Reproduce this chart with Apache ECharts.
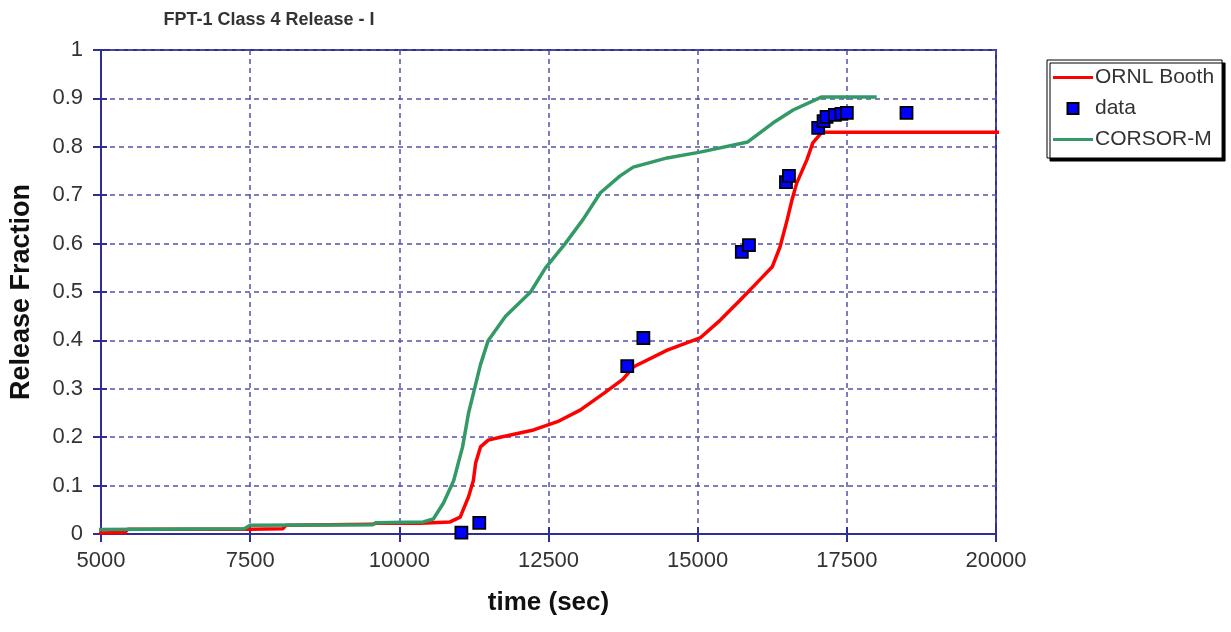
<!DOCTYPE html>
<html>
<head>
<meta charset="utf-8">
<script src="https://cdn.jsdelivr.net/npm/echarts@6/dist/echarts.min.js"></script>
<style>
  html, body { margin: 0; padding: 0; background: #fff; }
  #chart { width: 1231px; height: 632px; }
</style>
</head>
<body>
<div id="chart"></div>
<script>
// Release fraction vs. time for FPT-1, class 4 (iodine)
const xTicks = [5000, 7500, 10000, 12500, 15000, 17500, 20000];
const yTicks = [0, 0.1, 0.2, 0.3, 0.4, 0.5, 0.6, 0.7, 0.8, 0.9, 1];

// ORNL Booth model: [time (s), release fraction]
const ornlBooth = [
  [4870, 0.002], [5400, 0.003], [5450, 0.01], [7450, 0.01], [7500, 0.01],
  [8050, 0.011], [8100, 0.018], [9550, 0.02], [9600, 0.022], [10350, 0.022],
  [10850, 0.025], [11020, 0.035], [11160, 0.077], [11240, 0.11], [11280, 0.147],
  [11360, 0.18], [11490, 0.194], [11690, 0.2], [12250, 0.215], [12650, 0.232],
  [13030, 0.256], [13420, 0.29], [13750, 0.32], [13920, 0.345], [14490, 0.38],
  [15040, 0.405], [15380, 0.442], [15710, 0.483], [16040, 0.525], [16250, 0.552],
  [16380, 0.593], [16500, 0.649], [16580, 0.69], [16660, 0.725], [16830, 0.773],
  [16930, 0.808], [17080, 0.83], [20110, 0.83]
];

// Measured data points
const measured = [
  [11040, 0.003], [11340, 0.023], [13820, 0.347], [14090, 0.405],
  [15740, 0.583], [15860, 0.597], [16480, 0.727], [16530, 0.74],
  [17020, 0.839], [17110, 0.853], [17160, 0.862], [17300, 0.866],
  [17410, 0.868], [17500, 0.87], [18500, 0.87]
];

// CORSOR-M model
const corsorM = [
  [4870, 0.009], [7400, 0.011], [7500, 0.018], [9550, 0.019], [9600, 0.023],
  [10400, 0.025], [10570, 0.031], [10740, 0.064], [10910, 0.11], [11060, 0.18],
  [11160, 0.25], [11260, 0.3], [11360, 0.35], [11490, 0.4], [11780, 0.45],
  [12200, 0.5], [12450, 0.55], [12780, 0.6], [13080, 0.65], [13370, 0.705],
  [13700, 0.74], [13920, 0.758], [14490, 0.777], [15040, 0.789], [15840, 0.81],
  [16260, 0.849], [16600, 0.876], [17080, 0.903], [18000, 0.903]
];

const navy = '#2e2e96';
const gridDash = '#5252aa';
const fontFam = '"Liberation Sans", Arial, sans-serif';
const lineIcon = 'path://M0,0L40,0L40,3L0,3Z';

const chart = echarts.init(document.getElementById('chart'), null, { renderer: 'canvas' });

chart.setOption({
  animation: false,
  backgroundColor: '#ffffff',
  title: {
    text: 'FPT-1 Class 4 Release - I',
    left: 264,
    textAlign: 'center',
    top: 6,
    textStyle: { fontFamily: fontFam, fontSize: 18, fontWeight: 'bold', color: '#333333' }
  },
  legend: {
    orient: 'vertical',
    left: 1047,
    top: 60,
    padding: [7, 8, 8, 6],
    itemGap: 10,
    itemWidth: 40,
    itemHeight: 11,
    symbolKeepAspect: true,
    borderColor: '#000000',
    borderWidth: 1,
    backgroundColor: '#ffffff',
    shadowColor: '#000000',
    shadowBlur: 0,
    shadowOffsetX: 3,
    shadowOffsetY: 3,
    textStyle: { fontFamily: fontFam, fontSize: 21, color: '#333333', padding: [0, 0, 0, -3] },
    data: [
      { name: 'ORNL Booth', icon: lineIcon },
      { name: 'data', icon: 'path://M0,0L1,0L1,1L0,1Z' },
      { name: 'CORSOR-M', icon: lineIcon }
    ]
  },
  grid: {
    left: 100, right: 235, top: 50, bottom: 98,
    show: true, borderColor: navy, borderWidth: 2, backgroundColor: 'transparent'
  },
  xAxis: [
    {
      type: 'value', min: 5000, max: 20000, interval: 2500,
      name: 'time (sec)', nameLocation: 'middle', nameGap: 56,
      nameTextStyle: { fontFamily: fontFam, fontSize: 26, fontWeight: 'bold', color: '#111111' },
      axisLine: { show: true, lineStyle: { color: navy, width: 2 } },
      axisTick: { show: true, inside: false, length: 8, lineStyle: { color: navy, width: 2 } },
      axisLabel: { fontFamily: fontFam, fontSize: 22, color: '#333333', margin: 16,
        customValues: xTicks, formatter: v => String(v) },
      splitLine: { show: true, lineStyle: { color: gridDash, width: 1.5, type: [5, 4] } }
    },
    {
      type: 'value', min: 5000, max: 20000, interval: 2500, position: 'bottom',
      axisLine: { show: false },
      axisTick: { show: true, inside: true, length: 7, lineStyle: { color: navy, width: 2 } },
      axisLabel: { show: false },
      splitLine: { show: false }
    }
  ],
  yAxis: [
    {
      type: 'value', min: 0, max: 1, interval: 0.1,
      name: 'Release Fraction', nameLocation: 'middle', nameGap: 66, nameRotate: 90,
      nameTextStyle: { fontFamily: fontFam, fontSize: 27, fontWeight: 'bold', color: '#111111' },
      axisLine: { show: true, lineStyle: { color: navy, width: 2 } },
      axisTick: { show: true, inside: false, length: 8, lineStyle: { color: navy, width: 2 } },
      axisLabel: { fontFamily: fontFam, fontSize: 22, color: '#333333', margin: 18,
        customValues: yTicks,
        formatter: v => String(Math.round(v * 10) / 10) },
      splitLine: { show: true, lineStyle: { color: gridDash, width: 1.5, type: [5, 4] } }
    },
    {
      type: 'value', min: 0, max: 1, interval: 0.1, position: 'left',
      axisLine: { show: false },
      axisTick: { show: true, inside: true, length: 6, lineStyle: { color: navy, width: 2 } },
      axisLabel: { show: false },
      splitLine: { show: false }
    }
  ],
  series: [
    {
      name: 'ORNL Booth', type: 'line', data: ornlBooth, symbol: 'none', clip: false,
      lineStyle: { color: '#ff0000', width: 3.5 }, itemStyle: { color: '#ff0000' }, z: 3
    },
    {
      name: 'data', type: 'scatter', data: measured, symbol: 'rect', symbolSize: 12, clip: false,
      itemStyle: { color: '#0000ff', opacity: 1, borderColor: '#000000', borderWidth: 1.8 }, z: 5
    },
    {
      name: 'CORSOR-M', type: 'line', data: corsorM, symbol: 'none', clip: false,
      lineStyle: { color: '#339966', width: 3.5 }, itemStyle: { color: '#339966' }, z: 4
    }
  ]
});
</script>
</body>
</html>
